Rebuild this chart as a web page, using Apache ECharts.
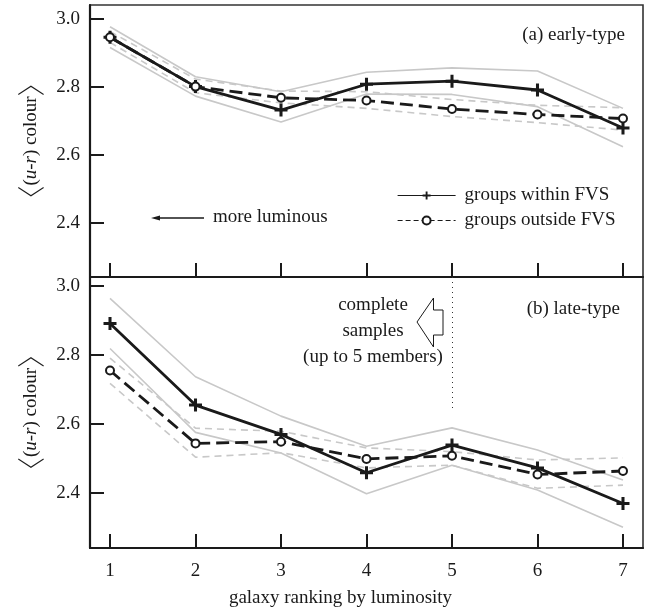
<!DOCTYPE html>
<html>
<head>
<meta charset="utf-8">
<script src="https://cdn.jsdelivr.net/npm/echarts@6/dist/echarts.min.js"></script>
<style>
  html, body { margin: 0; padding: 0; background: #fff; }
  #main { width: 659px; height: 610px; }
</style>
</head>
<body>
<div id="main"></div>
<script>
var ranks = [1, 2, 3, 4, 5, 6, 7]
var yTicks = [2.4, 2.6, 2.8, 3.0]

// (a) early-type
var earlyWithin = [2.945, 2.800, 2.731, 2.807, 2.816, 2.790, 2.678]
var earlyOutside = [2.945, 2.800, 2.767, 2.759, 2.734, 2.718, 2.706]
var earlyWithinHi = [2.976, 2.829, 2.785, 2.842, 2.855, 2.846, 2.736]
var earlyWithinLo = [2.915, 2.772, 2.696, 2.778, 2.777, 2.741, 2.623]
var earlyOutsideHi = [2.962, 2.822, 2.787, 2.785, 2.762, 2.745, 2.738]
var earlyOutsideLo = [2.930, 2.782, 2.752, 2.736, 2.712, 2.694, 2.672]

// (b) late-type
var lateWithin = [2.890, 2.654, 2.569, 2.458, 2.538, 2.472, 2.369]
var lateOutside = [2.754, 2.543, 2.548, 2.498, 2.507, 2.453, 2.463]
var lateWithinHi = [2.963, 2.736, 2.622, 2.535, 2.588, 2.524, 2.437]
var lateWithinLo = [2.818, 2.575, 2.515, 2.397, 2.480, 2.408, 2.300]
var lateOutsideHi = [2.790, 2.587, 2.578, 2.530, 2.519, 2.495, 2.501]
var lateOutsideLo = [2.717, 2.503, 2.516, 2.472, 2.480, 2.413, 2.422]

var font = 'Liberation Serif'
var fs = 19
var ink = '#1a1a1a'
var grey = '#c8c8c8'
var plus = 'path://M4.6,0 h2.8 v4.6 h4.6 v2.8 h-4.6 v4.6 h-2.8 v-4.6 h-4.6 v-2.8 h4.6 z'

function pairs (ys) {
  return ys.map(function (v, i) { return [ranks[i], v] })
}

function band (ys, idx, dashed) {
  return {
    type: 'line',
    xAxisIndex: idx,
    yAxisIndex: idx,
    data: pairs(ys),
    symbol: 'none',
    silent: true,
    z: 1,
    lineStyle: { color: grey, width: 1.6, type: dashed ? [7, 5] : 'solid' }
  }
}

function within (ys, idx) {
  return {
    name: 'groups within FVS',
    type: 'line',
    xAxisIndex: idx,
    yAxisIndex: idx,
    data: pairs(ys),
    symbol: plus,
    symbolSize: 13,
    z: 3,
    itemStyle: { color: ink, borderWidth: 0 },
    lineStyle: { color: ink, width: 2.8 }
  }
}

function outside (ys, idx) {
  return {
    name: 'groups outside FVS',
    type: 'line',
    xAxisIndex: idx,
    yAxisIndex: idx,
    data: pairs(ys),
    symbol: 'emptyCircle',
    symbolSize: 8,
    z: 4,
    itemStyle: { color: ink, borderWidth: 2.4 },
    lineStyle: { color: ink, width: 2.8, type: [13, 6] }
  }
}

function yAxis (idx, max) {
  return {
    type: 'value',
    gridIndex: idx,
    min: 2.24,
    max: max,
    name: '{bl|〈}{t|(}{i|u}{t|-}{i|r}{t|) colour}{br|〉}',
    nameLocation: 'middle',
    nameRotate: 90,
    nameGap: 44,
    nameTextStyle: {
      fontFamily: font,
      fontSize: fs,
      color: ink,
      rich: {
        t: { fontFamily: font, fontSize: fs, color: ink },
        i: { fontFamily: font, fontSize: fs, fontStyle: 'italic', color: ink },
        bl: { fontFamily: 'Noto Sans CJK SC', fontWeight: 300, fontSize: 28, color: ink, padding: [0, 0, 0, 0] },
        br: { fontFamily: 'Noto Sans CJK SC', fontWeight: 300, fontSize: 28, color: ink }
      }
    },
    axisLine: { show: true, lineStyle: { color: ink, width: 2.2 } },
    axisTick: { show: true, inside: true, length: 14, customValues: yTicks, lineStyle: { color: ink, width: 2 } },
    axisLabel: {
      customValues: yTicks,
      margin: 10,
      fontFamily: font,
      fontSize: fs,
      color: ink,
      formatter: function (v) { return v.toFixed(1) }
    },
    splitLine: { show: false }
  }
}

function xAxis (idx, labels) {
  var ax = {
    type: 'value',
    gridIndex: idx,
    min: 0.766,
    max: 7.234,
    axisLine: { show: true, onZero: false, lineStyle: { color: ink, width: 2.2 } },
    axisTick: { show: true, inside: true, length: 14, customValues: ranks, lineStyle: { color: ink, width: 2 } },
    axisLabel: {
      show: labels,
      customValues: ranks,
      margin: 14,
      fontFamily: font,
      fontSize: fs,
      color: ink
    },
    splitLine: { show: false }
  }
  if (labels) {
    ax.name = 'galaxy ranking by luminosity'
    ax.nameLocation = 'middle'
    ax.nameGap = 41
    ax.nameTextStyle = { fontFamily: font, fontSize: fs, color: ink, padding: [0, 52, 0, 0] }
  }
  return ax
}

var series = [
  band(earlyWithinHi, 0, false),
  band(earlyWithinLo, 0, false),
  band(earlyOutsideHi, 0, true),
  band(earlyOutsideLo, 0, true),
  within(earlyWithin, 0),
  outside(earlyOutside, 0),
  band(lateWithinHi, 1, false),
  band(lateWithinLo, 1, false),
  band(lateOutsideHi, 1, true),
  band(lateOutsideLo, 1, true),
  within(lateWithin, 1),
  outside(lateOutside, 1)
]

// dotted line marking the complete-sample limit
series[10].markLine = {
  silent: true,
  symbol: 'none',
  label: { show: false },
  lineStyle: { color: '#333', width: 1, type: [1, 4] },
  data: [[{ coord: [5, 3.025] }, { coord: [5, 2.64] }]]
}

var txt = { fontFamily: font, fontSize: fs, fill: ink }

var option = {
  backgroundColor: '#ffffff',
  animation: false,
  grid: [
    { left: 90, top: 5, width: 553, height: 272, show: true, borderColor: '#333', borderWidth: 1.6 },
    { left: 90, top: 277, width: 553, height: 271, show: true, borderColor: '#333', borderWidth: 1.6 }
  ],
  xAxis: [xAxis(0, false), xAxis(1, true)],
  yAxis: [yAxis(0, 3.04), yAxis(1, 3.025)],
  legend: {
    data: [
      { name: 'groups within FVS', lineStyle: { width: 1.2, type: 'solid' } },
      { name: 'groups outside FVS', lineStyle: { width: 1.2, type: [5, 3] } }
    ],
    orient: 'vertical',
    left: 392,
    top: 181,
    itemWidth: 58,
    itemHeight: 10,
    itemGap: 6,
    selectedMode: false,
    textStyle: { fontFamily: font, fontSize: fs, color: ink, padding: [0, 0, 0, 4] }
  },
  graphic: [
    { type: 'text', x: 625, y: 35, style: Object.assign({ text: '(a) early-type', align: 'right', verticalAlign: 'middle' }, txt) },
    { type: 'text', x: 620, y: 309, style: Object.assign({ text: '(b) late-type', align: 'right', verticalAlign: 'middle' }, txt) },
    { type: 'text', x: 213, y: 217, style: Object.assign({ text: 'more luminous', verticalAlign: 'middle' }, txt) },
    { type: 'line', shape: { x1: 204, y1: 218, x2: 156, y2: 218 }, style: { stroke: ink, lineWidth: 1.3 } },
    { type: 'polygon', shape: { points: [[151, 218], [160, 215.5], [160, 220.5]] }, style: { fill: ink } },
    { type: 'text', x: 373, y: 305, style: Object.assign({ text: 'complete', align: 'center', verticalAlign: 'middle' }, txt) },
    { type: 'text', x: 373, y: 331, style: Object.assign({ text: 'samples', align: 'center', verticalAlign: 'middle' }, txt) },
    { type: 'text', x: 373, y: 357, style: Object.assign({ text: '(up to 5 members)', align: 'center', verticalAlign: 'middle' }, txt) },
    {
      type: 'polygon',
      shape: { points: [[417, 322], [433.5, 298], [433.5, 310], [443, 310], [443, 335], [433.5, 335], [433.5, 347]] },
      style: { fill: '#fff', stroke: ink, lineWidth: 1 }
    }
  ],
  series: series
}

var myChart = echarts.init(document.getElementById('main'))
myChart.setOption(option)
window.onresize = myChart.resize
</script>
</body>
</html>
